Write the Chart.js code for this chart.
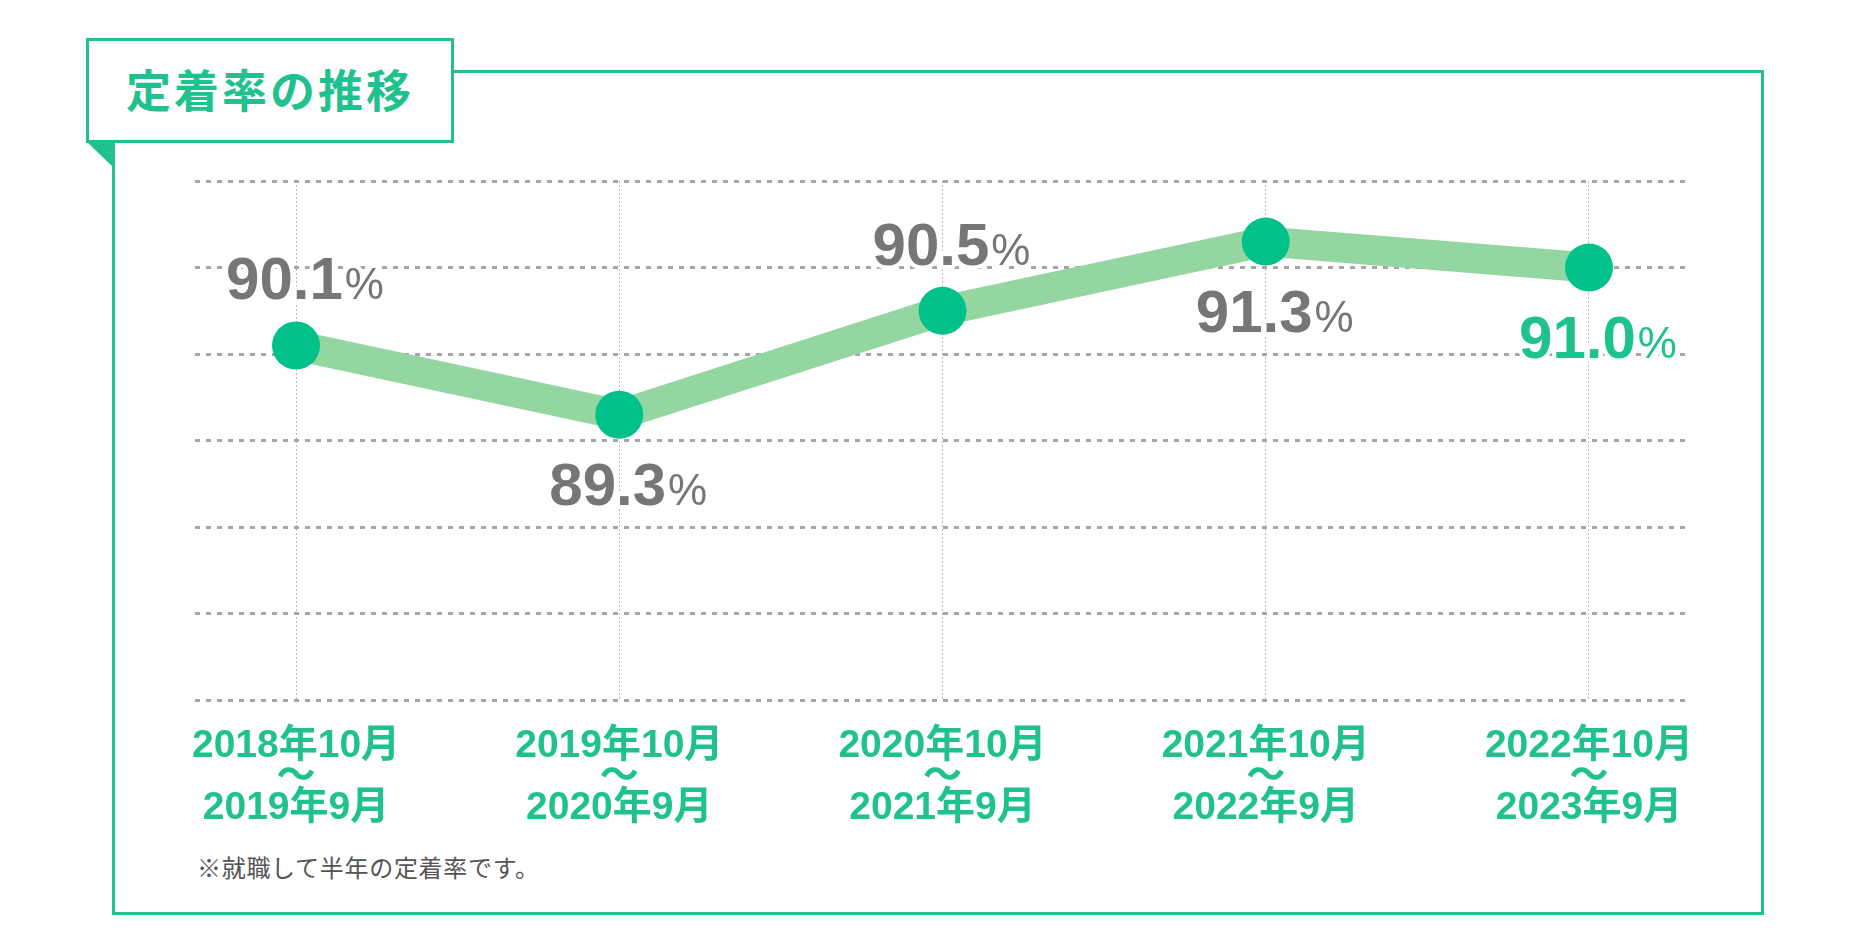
<!DOCTYPE html>
<html>
<head>
<meta charset="utf-8">
<script src="https://cdn.jsdelivr.net/npm/chart.js@4.4.1/dist/chart.umd.min.js"></script>
<style>
  html, body { margin:0; padding:0; background:#fff; width:1860px; height:936px; overflow:hidden; }
  #frame { position:absolute; left:112px; top:70px; width:1652px; height:845px; border:3px solid #1fc28e; box-sizing:border-box; }
  #title { position:absolute; left:86px; top:38px; width:368px; height:105px; border:3px solid #1fc28e; box-sizing:border-box; background:#fff;
           color:#1fc28e; font-family:'Noto Sans CJK JP', sans-serif; font-weight:bold; font-size:45px; letter-spacing:3px; text-align:center; line-height:95px; }
  #tri { position:absolute; left:86px; top:141px; width:29px; height:28px; background:#1fc28e; clip-path:polygon(0 0, 100% 0, 100% 100%); }
  #note { position:absolute; left:197px; top:851px; font-family:'Noto Sans CJK JP', sans-serif; font-size:24px; color:#555; letter-spacing:0.7px; line-height:32px; }
  #wrap { position:absolute; left:0; top:0; width:1860px; height:936px; }
</style>
</head>
<body>
<div id="frame"></div>
<div id="title">定着率の推移</div>
<div id="tri"></div>
<div id="note">※就職して半年の定着率です。</div>
<div id="wrap"><canvas id="c"></canvas></div>
<script>
// ---- data ----
const periodStart = ['2018年10月', '2019年10月', '2020年10月', '2021年10月', '2022年10月'];
const periodEnd   = ['2019年9月',  '2020年9月',  '2021年9月',  '2022年9月',  '2023年9月'];
const rates       = [90.1, 89.3, 90.5, 91.3, 91.0];
const yMin = 86, yMax = 92, yStep = 1;

// ---- styles ----
const GREEN = '#1fc28e';
const POINT = '#00c18a';
const LINE = '#93d6a1';
const GRAY_TEXT = '#767676';
const labelSide  = ['above', 'below', 'above', 'below', 'below'];
const labelColor = [GRAY_TEXT, GRAY_TEXT, GRAY_TEXT, GRAY_TEXT, GREEN];

const points = rates.map((v, i) => ({ x: i, y: v }));

const valueLabels = {
  id: 'valueLabels',
  afterDatasetsDraw(chart) {
    const ctx = chart.ctx;
    const meta = chart.getDatasetMeta(0);
    ctx.save();
    meta.data.forEach((pt, i) => {
      const num = rates[i].toFixed(1);
      const numFont = "bold 60px 'Liberation Sans', Arial, sans-serif";
      const pctFont = "44px 'Liberation Sans', Arial, sans-serif";
      ctx.font = numFont; const wn = ctx.measureText(num).width;
      ctx.font = pctFont; const wp = ctx.measureText('%').width;
      const x0 = pt.x + 8 - (wn + wp) / 2;
      const base = labelSide[i] === 'above' ? pt.y - 46 : pt.y + 90;
      ctx.textBaseline = 'alphabetic';
      ctx.textAlign = 'left';
      ctx.lineJoin = 'round';
      ctx.strokeStyle = '#fff';
      ctx.lineWidth = 8;
      ctx.fillStyle = labelColor[i];
      ctx.font = numFont;
      ctx.strokeText(num, x0, base);
      ctx.fillText(num, x0, base);
      ctx.font = pctFont;
      ctx.strokeText('%', x0 + wn + 2, base);
      ctx.fillText('%', x0 + wn + 2, base);
    });
    ctx.restore();
  }
};

new Chart(document.getElementById('c'), {
  type: 'line',
  data: {
    datasets: [{
      data: points,
      borderColor: LINE,
      borderWidth: 30,
      tension: 0,
      pointRadius: 24,
      pointHoverRadius: 24,
      pointBackgroundColor: POINT,
      pointBorderWidth: 0,
      clip: false
    }]
  },
  options: {
    responsive: true,
    maintainAspectRatio: false,
    animation: false,
    events: [],
    layout: { autoPadding: false, padding: { left: 195, right: 170, top: 181, bottom: 82 } },
    plugins: { legend: { display: false }, tooltip: { enabled: false } },
    scales: {
      x: {
        type: 'linear',
        min: -0.3125,
        max: 4.3125,
        border: { display: false, dash: [2, 2] },
        grid: { color: '#bdbdbd', lineWidth: 1, drawTicks: false, borderDash: [2, 2] },
        ticks: {
          stepSize: 1,
          includeBounds: false,
          autoSkip: false,
          maxRotation: 0,
          padding: 30,
          color: GREEN,
          font: { family: "'Liberation Sans', 'Noto Sans CJK JP', sans-serif", size: 39, weight: 'bold', lineHeight: 0.8 },
          callback: (v) => Number.isInteger(v) && periodStart[v] ? [periodStart[v], '〜', periodEnd[v]] : ''
        }
      },
      y: {
        min: yMin,
        max: yMax,
        border: { display: false, dash: [5, 6] },
        grid: { color: '#a9a5a5', lineWidth: 3, drawTicks: false, borderDash: [5, 6] },
        ticks: { display: false, stepSize: yStep }
      }
    }
  },
  plugins: [valueLabels]
});
</script>
</body>
</html>
